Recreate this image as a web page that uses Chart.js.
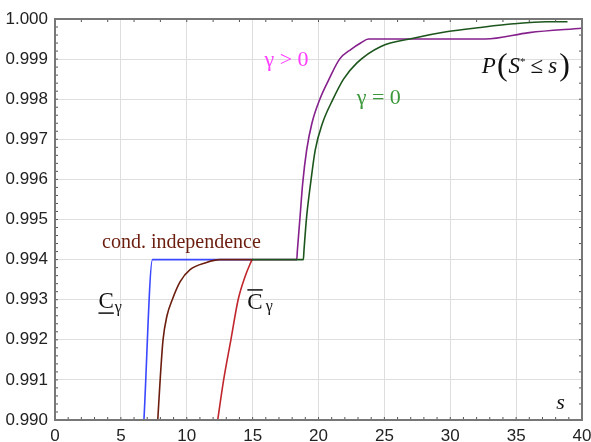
<!DOCTYPE html>
<html>
<head>
<meta charset="utf-8">
<script src="https://cdn.jsdelivr.net/npm/chart.js@4/dist/chart.umd.min.js"></script>
<style>
  html, body { margin: 0; padding: 0; background: #fff; }
  #wrap { width: 591px; height: 442px; }
</style>
</head>
<body>
<div id="wrap"><canvas id="cdf" width="591" height="442"></canvas></div>
<script>
// curves (s, P)
const greenS = [14.95, 18.85, 18.9, 19.1, 19.4, 19.75, 20.3, 21.1, 21.9, 22.9, 24.7, 27.2, 29.7, 32.3, 34.8, 37.3, 38.9]
const greenP = [0.994, 0.994, 0.99424, 0.99507, 0.9959, 0.99673, 0.9974, 0.9980, 0.9985, 0.9989, 0.99931, 0.99952, 0.99968, 0.99979, 0.99988, 0.99993, 0.99993]

const purpleS = [14.95, 18.35, 18.4, 18.6, 18.8, 19.1, 19.5, 20.1, 20.8, 21.6, 22.5, 23.2, 23.8, 32.65, 36, 40]
const purpleP = [0.994, 0.994, 0.99424, 0.99507, 0.9959, 0.99673, 0.9974, 0.9980, 0.9985, 0.9990, 0.99925, 0.99940, 0.9995, 0.9995, 0.99966, 0.99977]

const brownS = [7.8, 8.0, 8.2, 8.5, 8.9, 9.5, 10.25, 11.5, 12.5, 15]
const brownP = [0.990, 0.9911, 0.9920, 0.9926, 0.9930, 0.99345, 0.99375, 0.99393, 0.9940, 0.9940]

const redS = [12.35, 12.8, 13.35, 13.9, 14.45, 14.95]
const redP = [0.990, 0.991, 0.992, 0.993, 0.9936, 0.994]

const blueS = [6.75, 7.4, 14.95]
const blueP = [0.990, 0.994, 0.994]

const xTicks = [0, 5, 10, 15, 20, 25, 30, 35, 40]
const yTicks = [0.990, 0.991, 0.992, 0.993, 0.994, 0.995, 0.996, 0.997, 0.998, 0.999, 1.000]

const pts = (xs, ys) => xs.map((x, i) => ({x: x, y: ys[i]}))

const line = (data, color) => ({
  data: data,
  borderColor: color,
  backgroundColor: color,
  borderWidth: 1.6,
  pointRadius: 0,
  cubicInterpolationMode: 'monotone',
  fill: false
})

// frame + little ticks inside the box
const frame = {
  id: 'frame',
  afterDatasetsDraw(chart) {
    const {ctx, chartArea: a, scales: {x, y}} = chart
    ctx.save()
    ctx.strokeStyle = '#555'
    ctx.lineWidth = 1
    for (let v = 0; v <= 40; v += 1) {
      const px = x.getPixelForValue(v)
      ctx.beginPath(); ctx.moveTo(px, a.bottom); ctx.lineTo(px, a.bottom - 3); ctx.stroke()
      if (v % 2 === 0) { ctx.beginPath(); ctx.moveTo(px, a.top); ctx.lineTo(px, a.top + 3); ctx.stroke() }
    }
    for (let k = 0; k <= 50; k++) {
      const py = y.getPixelForValue(0.990 + k * 0.0002)
      ctx.beginPath(); ctx.moveTo(a.left, py); ctx.lineTo(a.left + 3, py); ctx.stroke()
      if (k % 2 === 0) { ctx.beginPath(); ctx.moveTo(a.right, py); ctx.lineTo(a.right - 3, py); ctx.stroke() }
    }
    ctx.strokeStyle = '#777'
    ctx.lineWidth = 2
    ctx.strokeRect(a.left, a.top, a.right - a.left, a.bottom - a.top)
    ctx.restore()
  }
}

// curve labels
const labels = {
  id: 'labels',
  afterDatasetsDraw(chart) {
    const {ctx, scales: {x, y}} = chart
    const X = v => x.getPixelForValue(v)
    const Y = v => y.getPixelForValue(v)
    ctx.save()
    ctx.textBaseline = 'middle'
    ctx.textAlign = 'left'
    const put = (txt, px, py, font, color) => {
      ctx.font = font; ctx.fillStyle = color
      ctx.fillText(txt, px, py)
      return px + ctx.measureText(txt).width
    }
    const serif = '"Liberation Serif", "Times New Roman", serif'

    // gamma > 0
    put('\u03b3 > 0', X(15.9), Y(0.99898), '22px ' + serif, '#ff3cff')
    // gamma = 0
    put('\u03b3 = 0', X(22.9), Y(0.99803), '22px ' + serif, '#3a983a')
    // cond. independence
    put('cond. independence', X(3.57), Y(0.99441), '20px ' + serif, '#6b1d0e')

    // P(S* <= s)
    let cx = X(32.4), cy = Y(0.9988)
    cx = put('P', cx, cy, 'italic 23px ' + serif, '#111')
    cx = put('(', cx + 1, cy - 1, '32px ' + serif, '#111')
    cx = put('S', cx + 1, cy, 'italic 23px ' + serif, '#111')
    cx = put('*', cx, cy - 5, '11px ' + serif, '#111')
    cx = put('\u2264', cx + 5, cy, '23px ' + serif, '#111')
    cx = put('s', cx + 5, cy, 'italic 23px ' + serif, '#111')
    put(')', cx + 2, cy - 1, '32px ' + serif, '#111')

    // lower C_gamma
    let lx = X(3.3), ly = Y(0.99294)
    ctx.font = '23px ' + serif
    const cw = ctx.measureText('C').width
    put('C', lx, ly, '23px ' + serif, '#111')
    ctx.strokeStyle = '#111'; ctx.lineWidth = 1.5
    ctx.beginPath(); ctx.moveTo(lx, ly + 11); ctx.lineTo(lx + cw, ly + 11); ctx.stroke()
    put('\u03b3', lx + cw + 1, ly + 6, '16px ' + serif, '#111')

    // upper C_gamma
    let ux = X(14.6), uy = Y(0.99292)
    put('C', ux, uy, '23px ' + serif, '#111')
    ctx.beginPath(); ctx.moveTo(ux, uy - 13); ctx.lineTo(ux + cw, uy - 13); ctx.stroke()
    put('\u03b3', ux + cw + 3, uy + 4, '16px ' + serif, '#111')

    // s axis label
    put('s', X(38.05), Y(0.99042), 'italic 22px ' + serif, '#111')
    ctx.restore()
  }
}

new Chart(document.getElementById('cdf'), {
  type: 'line',
  data: {
    datasets: [
      line(pts(greenS, greenP), '#1d561d'),
      line(pts(brownS, brownP), '#6b1d0e'),
      line(pts(redS, redP), '#c0262c'),
      line(pts(purpleS, purpleP), '#85208c'),
      line(pts(blueS, blueP), '#3a48ff')
    ]
  },
  options: {
    responsive: false,
    animation: false,
    layout: {padding: {top: 19, right: 0, left: 0, bottom: 0}},
    plugins: {legend: {display: false}, tooltip: {enabled: false}},
    scales: {
      x: {
        type: 'linear',
        min: 0, max: 40,
        afterFit: s => { s.height = 22; s.paddingRight = 9; s.paddingLeft = 0 },
        afterBuildTicks: s => { s.ticks = xTicks.map(v => ({value: v})) },
        grid: {color: '#dedede', drawTicks: false},
        border: {display: false},
        ticks: {font: {family: 'Arial, "Liberation Sans"', size: 17}, color: '#222', padding: 6, maxRotation: 0}
      },
      y: {
        type: 'linear',
        min: 0.990, max: 1.000,
        afterFit: s => { s.width = 55 },
        afterBuildTicks: s => { s.ticks = yTicks.map(v => ({value: v})) },
        grid: {color: '#dedede', drawTicks: false},
        border: {display: false},
        ticks: {font: {family: 'Arial, "Liberation Sans"', size: 17}, color: '#222', padding: 7,
          callback: v => v.toFixed(3)}
      }
    }
  },
  plugins: [frame, labels]
})
</script>
</body>
</html>
